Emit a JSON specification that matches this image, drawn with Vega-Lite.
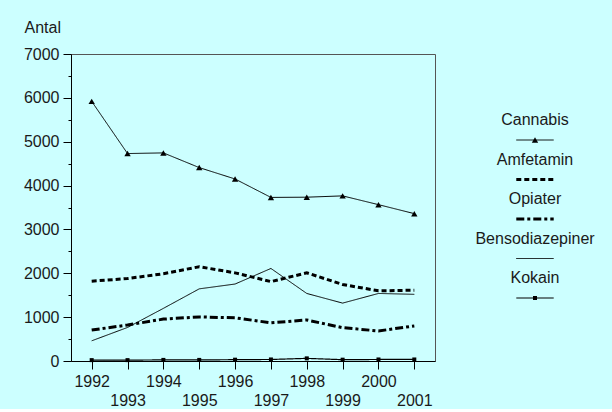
{
  "$schema": "https://vega.github.io/schema/vega-lite/v6.json",
  "background": "#CCFFFF",
  "padding": {"left": 22, "top": 18, "right": 0, "bottom": 0},
  "config": {
    "font": "Liberation Sans",
    "view": {"stroke": "#555555", "strokeWidth": 1},
    "axis": {"labelFont": "Liberation Sans", "labelFontSize": 16, "labelColor": "#1a1a1a", "titleFont": "Liberation Sans", "titleFontSize": 16, "titleFontWeight": "normal", "titleColor": "#1a1a1a", "domainColor": "#000000", "tickColor": "#000000", "grid": false},
    "text": {"font": "Liberation Sans"}
  },
  "datasets": {
    "main": [
      {"year": 1992, "drug": "Cannabis", "value": 5920},
      {"year": 1993, "drug": "Cannabis", "value": 4730},
      {"year": 1994, "drug": "Cannabis", "value": 4745},
      {"year": 1995, "drug": "Cannabis", "value": 4410},
      {"year": 1996, "drug": "Cannabis", "value": 4150},
      {"year": 1997, "drug": "Cannabis", "value": 3730},
      {"year": 1998, "drug": "Cannabis", "value": 3735},
      {"year": 1999, "drug": "Cannabis", "value": 3765},
      {"year": 2000, "drug": "Cannabis", "value": 3565},
      {"year": 2001, "drug": "Cannabis", "value": 3360},
      {"year": 1992, "drug": "Amfetamin", "value": 1820},
      {"year": 1993, "drug": "Amfetamin", "value": 1880},
      {"year": 1994, "drug": "Amfetamin", "value": 1990},
      {"year": 1995, "drug": "Amfetamin", "value": 2150},
      {"year": 1996, "drug": "Amfetamin", "value": 2010},
      {"year": 1997, "drug": "Amfetamin", "value": 1810},
      {"year": 1998, "drug": "Amfetamin", "value": 2010},
      {"year": 1999, "drug": "Amfetamin", "value": 1745},
      {"year": 2000, "drug": "Amfetamin", "value": 1600},
      {"year": 2001, "drug": "Amfetamin", "value": 1615},
      {"year": 1992, "drug": "Opiater", "value": 705},
      {"year": 1993, "drug": "Opiater", "value": 820},
      {"year": 1994, "drug": "Opiater", "value": 955},
      {"year": 1995, "drug": "Opiater", "value": 1005},
      {"year": 1996, "drug": "Opiater", "value": 985},
      {"year": 1997, "drug": "Opiater", "value": 870},
      {"year": 1998, "drug": "Opiater", "value": 935},
      {"year": 1999, "drug": "Opiater", "value": 760},
      {"year": 2000, "drug": "Opiater", "value": 685},
      {"year": 2001, "drug": "Opiater", "value": 800},
      {"year": 1992, "drug": "Bensodiazepiner", "value": 460},
      {"year": 1993, "drug": "Bensodiazepiner", "value": 765},
      {"year": 1994, "drug": "Bensodiazepiner", "value": 1200},
      {"year": 1995, "drug": "Bensodiazepiner", "value": 1645},
      {"year": 1996, "drug": "Bensodiazepiner", "value": 1755},
      {"year": 1997, "drug": "Bensodiazepiner", "value": 2110},
      {"year": 1998, "drug": "Bensodiazepiner", "value": 1540},
      {"year": 1999, "drug": "Bensodiazepiner", "value": 1320},
      {"year": 2000, "drug": "Bensodiazepiner", "value": 1540},
      {"year": 2001, "drug": "Bensodiazepiner", "value": 1520},
      {"year": 1992, "drug": "Kokain", "value": 20},
      {"year": 1993, "drug": "Kokain", "value": 20},
      {"year": 1994, "drug": "Kokain", "value": 25},
      {"year": 1995, "drug": "Kokain", "value": 25},
      {"year": 1996, "drug": "Kokain", "value": 30},
      {"year": 1997, "drug": "Kokain", "value": 35},
      {"year": 1998, "drug": "Kokain", "value": 60},
      {"year": 1999, "drug": "Kokain", "value": 30},
      {"year": 2000, "drug": "Kokain", "value": 35},
      {"year": 2001, "drug": "Kokain", "value": 35}
    ],
    "legend": [
      {"drug": "Cannabis"},
      {"drug": "Amfetamin"},
      {"drug": "Opiater"},
      {"drug": "Bensodiazepiner"},
      {"drug": "Kokain"}
    ]
  },
  "spacing": 20,
  "hconcat": [
    {
      "width": 364,
      "height": 307,
      "data": {"name": "main"},
      "encoding": {
        "x": {
          "field": "year", "type": "ordinal",
          "scale": {"type": "point", "padding": 0.577},
          "axis": {
            "title": null, "labelAngle": 0, "labelOverlap": false, "tickSize": 8,
            "labelPadding": {"condition": {"test": "datum.value % 2 === 1", "value": 23}, "value": 4}
          }
        },
        "y": {
          "field": "value", "type": "quantitative",
          "scale": {"domain": [0, 7000], "nice": false},
          "axis": {
            "title": "Antal", "titleAngle": 0, "titleAlign": "left", "titleBaseline": "middle", "titleX": -47, "titleY": -27,
            "values": [0, 500, 1000, 1500, 2000, 2500, 3000, 3500, 4000, 4500, 5000, 5500, 6000, 6500, 7000],
            "format": "d",
            "labelExpr": "datum.value % 1000 === 0 ? datum.label : ''",
            "labelOverlap": false, "labelPadding": 4,
            "tickSize": {"condition": {"test": "datum.value % 1000 !== 0", "value": 3}, "value": 8}
          }
        }
      },
      "layer": [
        {
          "mark": {"type": "line", "color": "#000000"},
          "encoding": {
            "detail": {"field": "drug"},
            "strokeDash": {
              "field": "drug", "type": "nominal", "legend": null,
              "scale": {"domain": ["Cannabis", "Amfetamin", "Opiater", "Bensodiazepiner", "Kokain"], "range": [[1, 0], [5, 3], [8, 3, 3, 3], [1, 0], [1, 0]]}
            },
            "strokeWidth": {
              "field": "drug", "type": "nominal", "legend": null,
              "scale": {"type": "ordinal", "domain": ["Cannabis", "Amfetamin", "Opiater", "Bensodiazepiner", "Kokain"], "range": [1, 3, 3, 1, 1.2]}
            }
          }
        },
        {
          "transform": [{"filter": "datum.drug === 'Cannabis' || datum.drug === 'Kokain'"}],
          "mark": {"type": "point", "filled": true, "color": "#000000", "opacity": 1},
          "encoding": {
            "shape": {"field": "drug", "type": "nominal", "legend": null, "scale": {"domain": ["Cannabis", "Kokain"], "range": ["triangle-up", "square"]}},
            "size": {"field": "drug", "type": "nominal", "legend": null, "scale": {"type": "ordinal", "domain": ["Cannabis", "Kokain"], "range": [40, 16]}}
          }
        }
      ]
    },
    {
      "width": 158,
      "height": 330,
      "view": {"stroke": null},
      "data": {"name": "legend"},
      "encoding": {
        "y": {"field": "drug", "type": "nominal", "sort": null, "axis": null,
              "scale": {"type": "point", "padding": 0, "range": [86, 244]}}
      },
      "layer": [
        {
          "mark": {"type": "text", "fontSize": 16, "color": "#1a1a1a", "dy": -20, "baseline": "middle", "align": "center"},
          "encoding": {"text": {"field": "drug"}}
        },
        {
          "mark": {"type": "point", "shape": "M-1,0H1", "filled": false, "color": "#000000", "size": 1400, "opacity": 1},
          "encoding": {
            "strokeDash": {
              "field": "drug", "type": "nominal", "legend": null,
              "scale": {"domain": ["Cannabis", "Amfetamin", "Opiater", "Bensodiazepiner", "Kokain"], "range": [[1, 0], [5, 3], [8, 3, 3, 3], [1, 0], [1, 0]]}
            },
            "strokeWidth": {
              "field": "drug", "type": "nominal", "legend": null,
              "scale": {"type": "ordinal", "domain": ["Cannabis", "Amfetamin", "Opiater", "Bensodiazepiner", "Kokain"], "range": [1, 3, 3, 1, 1.2]}
            }
          }
        },
        {
          "transform": [{"filter": "datum.drug === 'Cannabis' || datum.drug === 'Kokain'"}],
          "mark": {"type": "point", "filled": true, "color": "#000000", "opacity": 1},
          "encoding": {
            "shape": {"field": "drug", "type": "nominal", "legend": null, "scale": {"domain": ["Cannabis", "Kokain"], "range": ["triangle-up", "square"]}},
            "size": {"field": "drug", "type": "nominal", "legend": null, "scale": {"type": "ordinal", "domain": ["Cannabis", "Kokain"], "range": [40, 16]}}
          }
        }
      ]
    }
  ]
}
